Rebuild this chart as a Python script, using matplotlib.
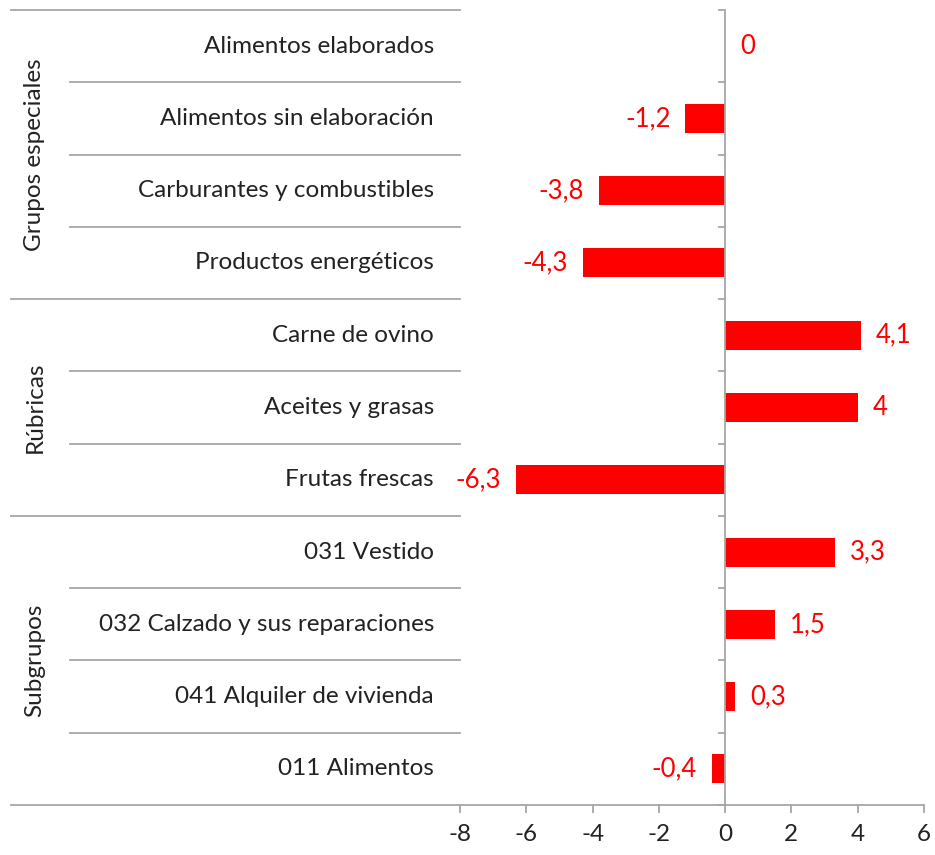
import numpy as np
import matplotlib.pyplot as plt

categories = ["Alimentos elaborados", "Alimentos sin elaboración",
              "Carburantes y combustibles", "Productos energéticos",
              "Carne de ovino", "Aceites y grasas", "Frutas frescas",
              "031 Vestido", "032 Calzado y sus reparaciones",
              "041 Alquiler de vivienda", "011 Alimentos"]
values = [0, -1.2, -3.8, -4.3, 4.1, 4.0, -6.3, 3.3, 1.5, 0.3, -0.4]
value_labels = ["0", "-1,2", "-3,8", "-4,3", "4,1", "4", "-6,3",
                "3,3", "1,5", "0,3", "-0,4"]
groups = ["Grupos especiales", "Rúbricas", "Subgrupos"]
group_sizes = [4, 3, 4]
x_ticks = [-8, -6, -4, -2, 0, 2, 4, 6]

plt.rcParams['font.family'] = ['Lato', 'DejaVu Sans']
GRAY = '#a6a6a6'
TEXT = '#222222'
RED = '#ff0000'
FS = 17.5

fig = plt.figure(figsize=(9.35, 8.55), dpi=100)
ax = fig.add_axes([460 / 935, 50 / 855, 464 / 935, 795 / 855])

n = len(categories)
y = np.arange(n)
ax.barh(y, values, height=0.4, color=RED)
ax.set_xlim(-8, 6)
ax.set_ylim(n - 0.5, -0.5)

for s in ax.spines.values():
    s.set_visible(False)

# data labels
px = 464 / 14.0  # pixels per unit
for yi, v, lab in zip(y, values, value_labels):
    off = 15 / px
    if v < 0:
        ax.text(v - off, yi, lab, ha='right', va='center', color=RED, fontsize=18.5)
    else:
        ax.text(v + off, yi, lab, ha='left', va='center', color=RED, fontsize=18.5)

# category labels
ax.set_yticks([])
tr = ax.get_yaxis_transform()
for yi, c in zip(y, categories):
    ax.text(-26 / 464, yi, c, transform=tr, ha='right', va='center',
            color=TEXT, fontsize=FS)

# separators
left_full = -449 / 464
left_short = -390 / 464
bounds = np.cumsum([0] + group_sizes) - 0.5
for b in np.arange(n + 1) - 0.5:
    x0 = left_full if b in bounds else left_short
    x1 = 1.0 if b == n - 0.5 else 0.0
    ax.plot([x0, x1], [b, b], transform=tr, color=GRAY, lw=1.3, clip_on=False)

# group labels
for g, b0, b1 in zip(groups, bounds[:-1], bounds[1:]):
    ax.text(-425 / 464, (b0 + b1) / 2, g, transform=tr, rotation=90,
            ha='center', va='center', color=TEXT, fontsize=FS)

# zero axis with left ticks
ax.axvline(0, color=GRAY, lw=1.3)
tick_len = 6 / px
for b in np.arange(n + 1) - 0.5:
    ax.plot([-tick_len, 0], [b, b], color=GRAY, lw=1.3, clip_on=False)

ax.set_xticks(x_ticks)
ax.set_xticklabels([str(t) for t in x_ticks])
ax.tick_params(axis='x', length=6, width=1.3, color=GRAY, labelcolor=TEXT,
               labelsize=FS, pad=8)

fig.savefig('out.png', dpi=100)
